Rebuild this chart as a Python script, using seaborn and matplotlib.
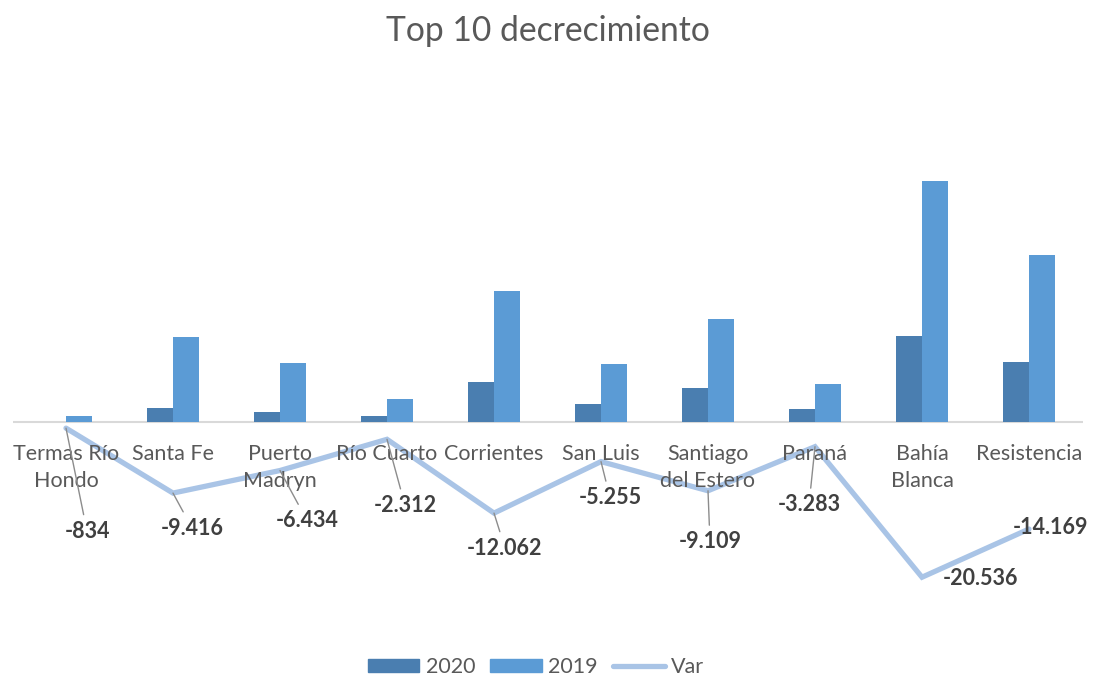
import matplotlib
matplotlib.use("Agg")
import matplotlib.pyplot as plt
import seaborn as sns
import numpy as np
import pandas as pd

categories = ["Termas Río\nHondo", "Santa Fe", "Puerto\nMadryn", "Río Cuarto", "Corrientes",
              "San Luis", "Santiago\ndel Estero", "Paraná", "Bahía\nBlanca", "Resistencia"]
v2020 = [0, 1800, 1300, 750, 5200, 2400, 4500, 1700, 11300, 7900]
v2019 = [834, 11216, 7734, 3062, 17262, 7655, 13609, 4983, 31836, 22069]
var = [-834, -9416, -6434, -2312, -12062, -5255, -9109, -3283, -20536, -14169]

# label layout (pixel offsets from the point) and leader-line flags
label_offsets = [(21, -103), (19, -35), (27, -50), (18, -66), (11, -35),
                 (9, -36), (2, -51), (-6, -58), (59, -1), (21, 2)]
leaders = [True, True, True, True, True, True, True, True, False, False]

C2020 = "#4a7eb0"
C2019 = "#5b9bd5"
CVAR = "#a9c4e6"

sns.set_theme(style="white")
plt.rcParams["font.family"] = ["Lato", "DejaVu Sans"]

fig = plt.figure(figsize=(10.94, 6.78), dpi=100)
ax = fig.add_axes([12.5 / 1094, (678 - 611) / 678, 1070 / 1094, 454 / 678])

n = len(categories)
df = pd.DataFrame({
    "cat": list(range(n)) * 2,
    "year": ["2020"] * n + ["2019"] * n,
    "value": v2020 + v2019,
})
sns.barplot(data=df, x="cat", y="value", hue="year", hue_order=["2020", "2019"],
            palette={"2020": C2020, "2019": C2019}, width=0.49, gap=0,
            saturation=1, ax=ax, legend=False, zorder=2, linewidth=0)
ax.axhline(0, color="#d9d9d9", lw=1.5, zorder=1)
sns.lineplot(x=np.arange(n), y=var, color=CVAR, lw=3.8, ax=ax, zorder=3,
             solid_joinstyle="miter")

ax.set_xlim(-0.5, n - 0.5)
ax.set_ylim(-25000, 35000)
for s in ax.spines.values():
    s.set_visible(False)
ax.set_xticks([])
ax.set_yticks([])
ax.set_xlabel("")
ax.set_ylabel("")

for i, lab in enumerate(categories):
    ax.annotate(lab, (i, 0), xytext=(0, -22), textcoords="offset pixels",
                ha="center", va="top", fontsize=15.5, color="#595959",
                linespacing=1.45, zorder=4)

for i, v in enumerate(var):
    txt = f"{v:,}".replace(",", ".")
    dx, dy = label_offsets[i]
    ap = dict(arrowstyle="-", color="#8c8c8c", lw=1, shrinkA=2, shrinkB=0) if leaders[i] else None
    ax.annotate(txt, (i, v), xytext=(dx, dy), textcoords="offset pixels",
                ha="center", va="center", fontsize=15.5, fontweight="bold",
                color="#404040", arrowprops=ap, zorder=5)

fig.text(548 / 1094, 1 - 31 / 678, "Top 10 decrecimiento", ha="center", va="center",
         fontsize=24.2, color="#595959")

from matplotlib.patches import Patch
from matplotlib.lines import Line2D
handles = [Patch(color=C2020, label="2020"), Patch(color=C2019, label="2019"),
           Line2D([0], [0], color=CVAR, lw=3.8, label="Var")]
fig.legend(handles=handles, loc="center", bbox_to_anchor=(536 / 1094, 1 - 667 / 678),
           ncol=3, frameon=False, fontsize=15.5, handlelength=2.4, handleheight=0.55,
           handletextpad=0.3, columnspacing=0.7, labelcolor="#595959")

fig.savefig("out.png", dpi=100, facecolor="white")
